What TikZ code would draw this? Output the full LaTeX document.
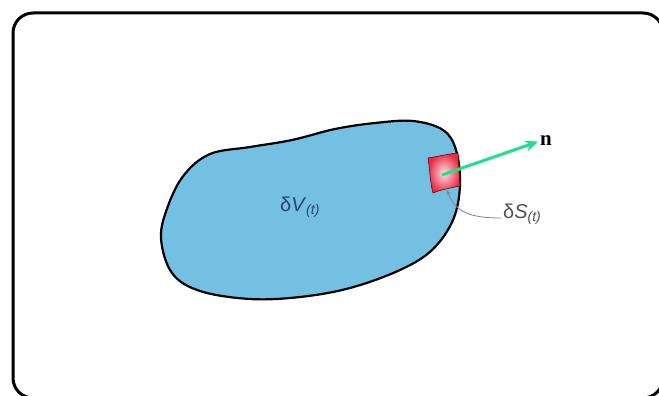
\documentclass[tikz,border=0pt]{standalone}
\usepackage{fontspec}
\setmainfont{Liberation Sans}
\newfontfamily\serifface{Liberation Serif}
\usetikzlibrary{arrows.meta}
\definecolor{blobblue}{RGB}{116,192,226}
\definecolor{patchred}{RGB}{232,44,70}
\definecolor{normalgreen}{RGB}{30,225,140}
\definecolor{leadergray}{RGB}{150,120,150}
\definecolor{labelblue}{RGB}{40,70,105}
\definecolor{labelgray}{RGB}{80,80,85}
\tikzset{
  frame/.style={line width=3pt, rounded corners=20pt},
  volume/.style={line width=2.2pt, fill=blobblue},
  patch/.style={inner color=white!85!patchred, outer color=patchred, draw=red!45!black, line width=0.6pt},
  normalvec/.style={normalgreen, line width=3pt, -{Stealth[length=13pt,width=11pt]}, shorten >=2pt},
  leader/.style={leadergray, line width=0.8pt, -{Stealth[length=5pt,width=4pt]}},
  lbl/.style={inner sep=0pt, font=\fontsize{20}{22}\selectfont}
}
\begin{document}
\begin{tikzpicture}[x=1pt,y=-1pt]
\useasboundingbox (0,0) rectangle (659,396);
\fill[white] (0,0) rectangle (659,396);
% outer frame
\draw[frame] (13,13) rectangle (663,398);
% material volume
\draw[volume] plot[smooth cycle, tension=0.6] coordinates {
  (161,238) (168,206) (184,175) (210,154) (250,147) (292,140)
  (335,129) (375,123) (413,121) (443,130) (456,150)
  (460,185) (453,220) (432,250) (400,270) (350,288) (300,297) (250,299)
  (200,291) (172,273)};
% surface element
\shadedraw[patch] (428,158) .. controls (440,156) and (448,154) .. (458,153)
  -- (460,186) .. controls (450,188) and (440,190) .. (433,193)
  .. controls (430,182) and (430,170) .. (428,158) -- cycle;
\coordinate (pc) at (442,175);
\coordinate (pb) at (447,190);
% labels
\node[lbl, text=labelblue, anchor=base west] (dV) at (280,211) {δ\textit{V}\textsubscript{\textit{(t)}}};
\node[lbl, text=labelgray, anchor=base west] (dS) at (503,218) {δ\textit{S}\textsubscript{\textit{(t)}}};
\node[inner sep=0pt, font=\serifface\bfseries\fontsize{21}{22}\selectfont, anchor=west] (n) at (540,141) {n};
% outward normal
\draw[normalvec] (pc) -- (n.west);
% leader to surface element
\draw[leader] ([xshift=-2pt]dS.base west) .. controls (470,218) and (455,212) .. (pb);
\end{tikzpicture}
\end{document}
